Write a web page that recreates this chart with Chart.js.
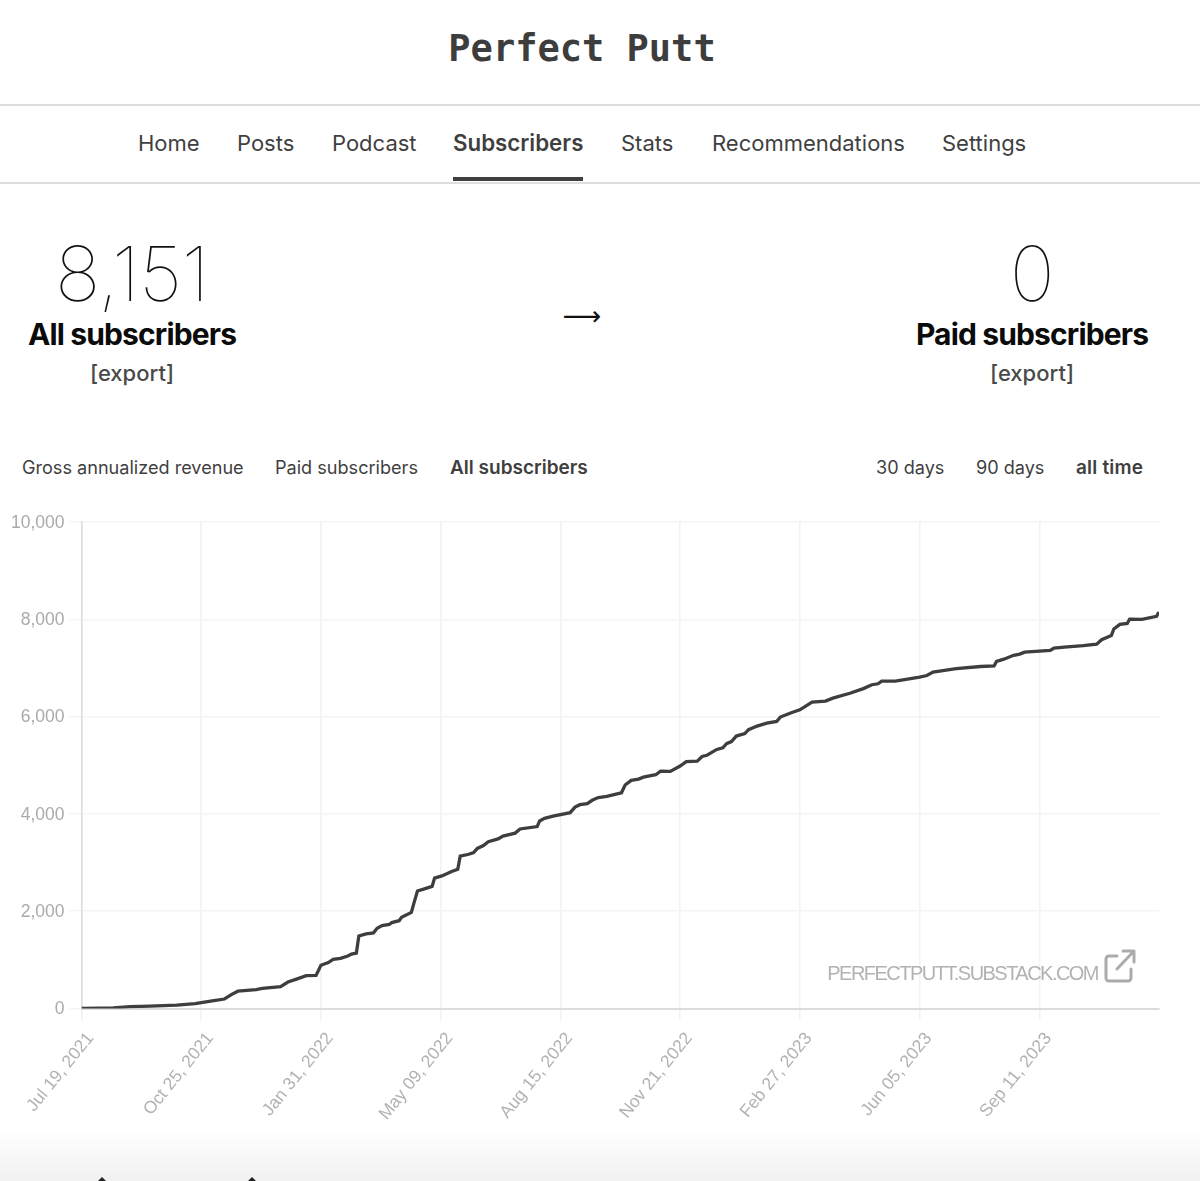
<!DOCTYPE html>
<html>
<head>
<meta charset="utf-8">
<title>Perfect Putt</title>
<script src="https://cdn.jsdelivr.net/npm/chart.js@4"></script>
<style>
  html, body { margin: 0; padding: 0; background: #fff; }
  body { position: relative; width: 1200px; height: 1181px; overflow: hidden; font-family: Inter, sans-serif; color: #3f3f3f; }
  .t { position: absolute; white-space: nowrap; line-height: 1; }
  .c { transform: translateX(-50%); }
  .rule { position: absolute; left: 0; width: 1200px; height: 2px; background: #dedede; }
  .nav { top: 132px; font-size: 22px; }
  .tab { top: 458px; font-size: 18.1px; }
  .tab.b { font-size: 19px; font-weight: 600; }
  .nav.b { font-size: 22.3px; font-weight: 600; }
  .big { top: 235px; font-size: 76px; font-weight: 100; color: #111; letter-spacing: -0.5px; }
  .lab { top: 319px; font-size: 30px; font-weight: 700; color: #0b0b0b; letter-spacing: -0.85px; }
  .exp { top: 362px; font-size: 22px; font-weight: 500; color: #4a4a4a; }
  #chartBox { position: absolute; left: 0; top: 500px; width: 1200px; height: 640px; }
  #fade { position: absolute; left: 0; top: 1130px; width: 1200px; height: 51px; background: linear-gradient(#fff, #f1f1f1); }
  .tip { position: absolute; top: 1177px; width: 8px; height: 4px; background: #222; clip-path: polygon(50% 0, 100% 100%, 0 100%); }
</style>
</head>
<body>
<div class="t c" style="left:582px;top:30px;font-family:'DejaVu Sans Mono',monospace;font-weight:700;font-size:37px;color:#3d3d3d">Perfect Putt</div>
<div class="rule" style="top:104px"></div>
<div class="t nav" style="left:138px">Home</div>
<div class="t nav" style="left:237px">Posts</div>
<div class="t nav" style="left:332px">Podcast</div>
<div class="t nav b" style="left:453px">Subscribers</div>
<div class="t nav" style="left:621px">Stats</div>
<div class="t nav" style="left:712px">Recommendations</div>
<div class="t nav" style="left:942px">Settings</div>
<div class="rule" style="top:182px"></div>
<div style="position:absolute;left:453px;top:177px;width:130px;height:4px;background:#3f3f3f"></div>

<div class="t c big" style="left:132px">8,151</div>
<div class="t c lab" style="left:132px">All subscribers</div>
<div class="t c exp" style="left:132px">[export]</div>
<div class="t c" style="left:582px;top:302px;font-family:'DejaVu Sans';font-size:27px;color:#111">⟶</div>
<div class="t c big" style="left:1032px">0</div>
<div class="t c lab" style="left:1032px">Paid subscribers</div>
<div class="t c exp" style="left:1032px">[export]</div>

<div class="t tab" style="left:22px">Gross annualized revenue</div>
<div class="t tab" style="left:275px">Paid subscribers</div>
<div class="t tab b" style="left:450px">All subscribers</div>
<div class="t tab" style="left:876px">30 days</div>
<div class="t tab" style="left:976px">90 days</div>
<div class="t tab b" style="left:1076px;letter-spacing:0.2px">all time</div>

<div id="chartBox"><canvas id="chart" width="1200" height="640"></canvas></div>

<div class="t" style="right:102px;top:963px;font-family:'Liberation Sans',sans-serif;font-size:20px;letter-spacing:-1.53px;color:#b2b2b2">PERFECTPUTT.SUBSTACK.COM</div>
<svg style="position:absolute;left:1104px;top:949px" width="32" height="34" viewBox="0 0 32 34" fill="none" stroke="#ababab" stroke-width="3" stroke-linecap="round" stroke-linejoin="round">
  <path d="M13 7H5a3 3 0 0 0-3 3v19a3 3 0 0 0 3 3h19a3 3 0 0 0 3-3v-9"/>
  <path d="M13 20L29 3M19 2h11v11"/>
</svg>

<div id="fade"></div>
<div class="tip" style="left:98px"></div>
<div class="tip" style="left:248px"></div>

<script>
// days since Jul 19, 2021
const days = [0, 15, 26, 40, 56, 78, 93, 107, 117, 123, 128, 143, 148, 163, 169, 176, 184, 192, 196, 202,
  206, 212, 218, 221, 225, 227, 233, 239, 242, 246, 252, 254, 260, 262, 270, 272, 275, 280, 287, 289,
  295, 303, 308, 310, 317, 321, 324, 329, 333, 341, 345, 355, 359, 373, 375, 379, 386, 400, 404, 408,
  414, 418, 423, 430, 442, 445, 450, 456, 460, 470, 474, 482, 490, 495, 504, 508, 512, 520, 525, 528,
  532, 536, 543, 546, 553, 561, 569, 572, 581, 588, 598, 609, 615, 629, 640, 647, 652, 655, 666, 670,
  686, 692, 697, 716, 736, 747, 749, 755, 763, 768, 772, 793, 796, 807, 820, 831, 835, 843, 845, 850,
  856, 858, 868, 880, 882];

const subscribers = [0, 5, 10, 40, 50, 70, 100, 155, 195, 290, 355, 390, 415, 450, 545, 605, 675, 680, 890, 945,
  1010, 1030, 1080, 1120, 1140, 1490, 1535, 1555, 1650, 1705, 1730, 1765, 1805, 1875, 1975, 2155, 2415, 2455, 2510, 2680,
  2725, 2815, 2860, 3130, 3170, 3205, 3290, 3350, 3430, 3485, 3545, 3605, 3690, 3740, 3855, 3910, 3955, 4025, 4140, 4190,
  4210, 4280, 4335, 4360, 4435, 4595, 4690, 4715, 4755, 4805, 4880, 4875, 4985, 5075, 5085, 5180, 5205, 5325, 5360, 5445,
  5485, 5600, 5650, 5730, 5805, 5865, 5900, 5990, 6080, 6140, 6300, 6320, 6380, 6480, 6575, 6655, 6675, 6730, 6730, 6745,
  6810, 6845, 6915, 6985, 7030, 7040, 7135, 7180, 7260, 7285, 7325, 7360, 7410, 7435, 7460, 7490, 7580, 7665, 7800, 7895,
  7915, 8005, 8000, 8060, 8151];

const dateLabels = ['Jul 19, 2021', 'Oct 25, 2021', 'Jan 31, 2022', 'May 09, 2022', 'Aug 15, 2022',
  'Nov 21, 2022', 'Feb 27, 2023', 'Jun 05, 2023', 'Sep 11, 2023'];

const tickFont = { family: "'Liberation Sans', sans-serif", size: 17.5 };

new Chart(document.getElementById('chart'), {
  type: 'line',
  data: {
    datasets: [{
      data: days.map((d, i) => ({ x: d, y: subscribers[i] })),
      borderColor: '#3e3e3e',
      borderWidth: 3.3,
      pointRadius: 0,
      tension: 0
    }]
  },
  options: {
    responsive: false,
    animation: false,
    layout: { padding: { top: 22, right: 41 } },
    plugins: { legend: { display: false }, tooltip: { enabled: false } },
    scales: {
      x: {
        type: 'linear',
        min: 0,
        max: 882,
        afterFit: s => { s.height = 131.5; },
        border: { color: '#dcdcdc', width: 2 },
        grid: { color: '#f2f2f2', lineWidth: 1.5, tickLength: 12 },
        ticks: {
          stepSize: 98,
          autoSkip: false,
          minRotation: 51,
          maxRotation: 51,
          padding: 8,
          labelOffset: 9,
          color: '#b2b2b2',
          font: tickFont,
          callback: (v, i) => dateLabels[i]
        }
      },
      y: {
        min: 0,
        max: 10000,
        afterFit: s => { s.width = 81.5; },
        border: { color: '#dcdcdc', width: 1.5 },
        grid: { color: '#f4f4f4', lineWidth: 1.5, tickLength: 12 },
        ticks: {
          stepSize: 2000,
          padding: 5,
          labelOffset: 1,
          color: '#aaaaaa',
          font: tickFont,
          callback: v => v.toLocaleString('en-US')
        }
      }
    }
  }
});
</script>
</body>
</html>
